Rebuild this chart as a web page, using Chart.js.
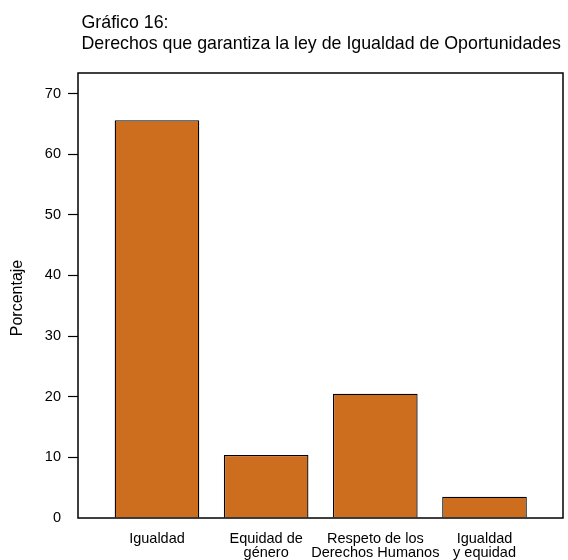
<!DOCTYPE html>
<html>
<head>
<meta charset="utf-8">
<script src="https://cdn.jsdelivr.net/npm/chart.js@4/dist/chart.umd.min.js"></script>
<style>
html,body{margin:0;padding:0;background:#fff;}
canvas{display:block;}
</style>
</head>
<body>
<canvas id="c" width="568" height="560"></canvas>
<script>
const titleLines = ["Gráfico 16:", "Derechos que garantiza la ley de Igualdad de Oportunidades"];
const categories = [["Igualdad"], ["Equidad de", "género"], ["Respeto de los", "Derechos Humanos"], ["Igualdad", "y equidad"]];
const values = [65.6, 10.4, 20.5, 3.5];
const yTicks = [0, 10, 20, 30, 40, 50, 60, 70];
const yTitle = "Porcentaje";

const FONT = "'Liberation Sans', Arial, Helvetica, sans-serif";
const FS = 14.5;
const TFS = 17.8;

const boxPlugin = {
  id: 'box',
  afterDraw(chart) {
    const ctx = chart.ctx, a = chart.chartArea;
    ctx.save();
    ctx.strokeStyle = '#000';
    ctx.lineWidth = 1.5;
    ctx.strokeRect(a.left, a.top, a.right - a.left, a.bottom - a.top);
    ctx.fillStyle = '#000';
    ctx.font = TFS + 'px ' + FONT;
    ctx.textAlign = 'left';
    ctx.textBaseline = 'alphabetic';
    ctx.fillText(titleLines[0], 81.5, 28);
    ctx.fillText(titleLines[1], 81.5, 49);
    ctx.font = '16px ' + FONT;
    ctx.translate(22, 298);
    ctx.rotate(-Math.PI / 2);
    ctx.textAlign = 'center';
    ctx.fillText(yTitle, 0, 0);
    ctx.restore();
  }
};

new Chart(document.getElementById('c'), {
  type: 'bar',
  data: {
    datasets: [{
      data: values.map((v, i) => ({x: i, y: v})),
      backgroundColor: '#CD6E1E',
      borderColor: '#000',
      borderWidth: 1.3,
      barPercentage: 0.775,
      categoryPercentage: 1
    }]
  },
  options: {
    responsive: false,
    animation: false,
    devicePixelRatio: 1,
    layout: {padding: {top: 73, right: 5, left: 0, bottom: 0}},
    plugins: {legend: {display: false}, tooltip: {enabled: false}, title: {display: false}},
    scales: {
      x: {
        type: 'linear',
        offset: false,
        min: -0.7234,
        max: 3.719,
        afterBuildTicks(s) { s.ticks = categories.map((c, i) => ({value: i})); },
        afterFit(s) { s.height = 42; },
        grid: {display: false, drawTicks: false},
        border: {display: false},
        ticks: {
          color: '#000',
          font: {family: FONT, size: FS, lineHeight: 0.97},
          padding: 14,
          maxRotation: 0,
          autoSkip: false,
          callback: (v) => categories[v]
        }
      },
      y: {
        min: 0,
        max: 73.4,
        afterBuildTicks(s) { s.ticks = yTicks.map(v => ({value: v})); },
        afterFit(s) { s.width = 78; },
        grid: {
          drawOnChartArea: false,
          drawTicks: true,
          tickLength: 10,
          tickWidth: 1.2,
          color: (c) => (c.tick && c.tick.value === 0) ? 'rgba(0,0,0,0)' : '#000'
        },
        border: {display: false},
        ticks: {
          color: '#000',
          font: {family: FONT, size: FS},
          padding: 7,
          callback: (v) => String(v)
        }
      }
    }
  },
  plugins: [boxPlugin]
});
</script>
</body>
</html>
